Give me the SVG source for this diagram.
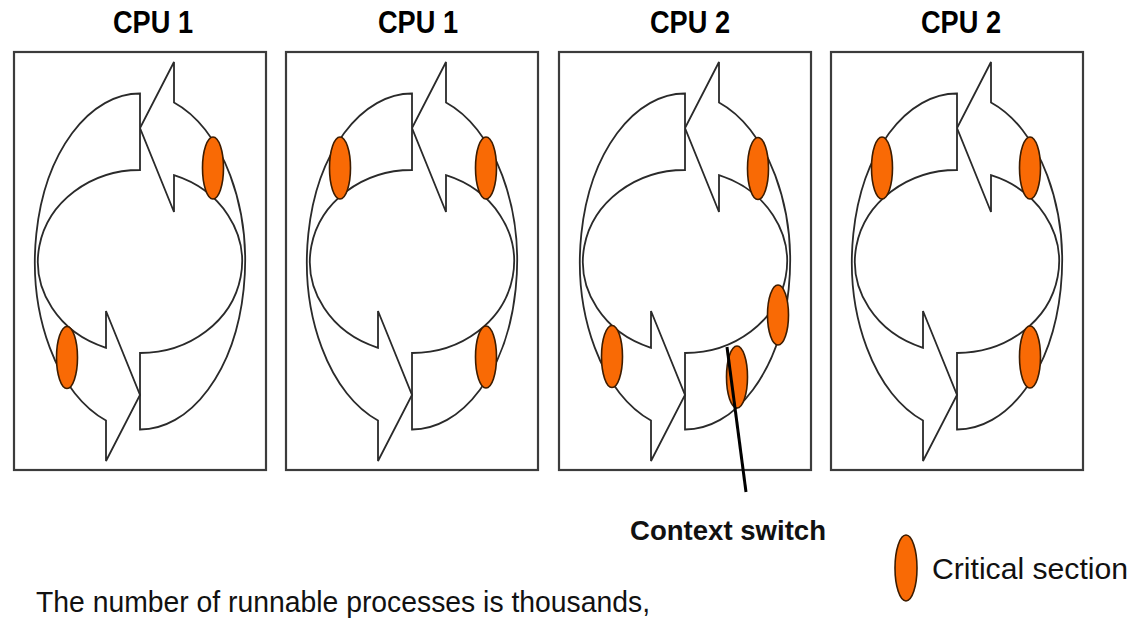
<svg xmlns="http://www.w3.org/2000/svg" xmlns:xlink="http://www.w3.org/1999/xlink" width="1146" height="619" viewBox="0 0 1146 619">
  <style>
    .frame { fill: #ffffff; stroke: #3c3c3c; stroke-width: 2.2; }
    .arrow { fill: #ffffff; stroke: #2a2a2a; stroke-width: 1.8; stroke-linejoin: miter; }
    .crit { fill: #f96a05; stroke: #3d1c00; stroke-width: 1.6; }
    .title { font-family: "Liberation Sans", Arial, sans-serif; font-weight: bold; font-size: 31px; fill: #000000; }
    .label { font-family: "Liberation Sans", Arial, sans-serif; font-size: 29px; fill: #111111; }
    .bold { font-weight: bold; font-size: 27px; }
    .pointer { stroke: #000000; stroke-width: 3; fill: none; }
  </style>
  <defs>
    <!-- one half of the circular cycle: tail at the bottom, head at the top pointing left -->
    <path id="halfCycle" class="arrow" d="M 0 168 A 105 168 0 0 0 34 -159 L 34 -199.5 L 0 -133.5 L 34 -49.5 L 34 -86.3 A 102 91.5 0 0 1 0 91.5 Z"/>
    <g id="cycle">
      <use xlink:href="#halfCycle"/>
      <use xlink:href="#halfCycle" transform="rotate(180)"/>
    </g>
  </defs>

  <!-- panel 1 -->
  <g id="panel1">
    <text class="title" x="113" y="33" textLength="80" lengthAdjust="spacingAndGlyphs">CPU 1</text>
    <rect class="frame" x="14" y="52" width="252" height="418"/>
    <g transform="translate(140 261.5)">
      <use xlink:href="#cycle"/>
      <ellipse class="crit" cx="73" cy="-93.5" rx="10.5" ry="31"/>
      <ellipse class="crit" cx="-73" cy="96" rx="10.5" ry="31"/>
    </g>
  </g>

  <!-- panel 2 -->
  <g id="panel2">
    <text class="title" x="378" y="33" textLength="80" lengthAdjust="spacingAndGlyphs">CPU 1</text>
    <rect class="frame" x="286" y="52" width="252" height="418"/>
    <g transform="translate(412 261.5)">
      <use xlink:href="#cycle"/>
      <ellipse class="crit" cx="-72" cy="-93.5" rx="10.5" ry="31"/>
      <ellipse class="crit" cx="74" cy="-93.5" rx="10.5" ry="31"/>
      <ellipse class="crit" cx="74" cy="95.5" rx="10.5" ry="31"/>
    </g>
  </g>

  <!-- panel 3 -->
  <g id="panel3">
    <text class="title" x="650" y="33" textLength="80" lengthAdjust="spacingAndGlyphs">CPU 2</text>
    <rect class="frame" x="559" y="52" width="252" height="418"/>
    <g transform="translate(685 261.5)">
      <use xlink:href="#cycle"/>
      <ellipse class="crit" cx="73" cy="-93" rx="10.5" ry="31"/>
      <ellipse class="crit" cx="93" cy="53.5" rx="10.5" ry="30"/>
      <ellipse class="crit" cx="52" cy="115.5" rx="10.5" ry="31"/>
      <ellipse class="crit" cx="-73" cy="95" rx="10.5" ry="31"/>
    </g>
  </g>

  <!-- panel 4 -->
  <g id="panel4">
    <text class="title" x="921" y="33" textLength="80" lengthAdjust="spacingAndGlyphs">CPU 2</text>
    <rect class="frame" x="831" y="52" width="252" height="418"/>
    <g transform="translate(957 261.5)">
      <use xlink:href="#cycle"/>
      <ellipse class="crit" cx="-75" cy="-93.5" rx="10.5" ry="31"/>
      <ellipse class="crit" cx="73" cy="-93.5" rx="10.5" ry="31"/>
      <ellipse class="crit" cx="73" cy="95.5" rx="10.5" ry="31"/>
    </g>
  </g>

  <!-- pointer to the context switch -->
  <g id="connectors">
    <line class="pointer" x1="727" y1="347" x2="746" y2="492"/>
  </g>

  <g id="contextLabel">
    <text class="label bold" x="630" y="540" textLength="196" lengthAdjust="spacingAndGlyphs">Context switch</text>
  </g>

  <g id="legend">
    <ellipse class="crit" cx="906" cy="568" rx="11" ry="33"/>
    <text class="label" x="932" y="579" textLength="196" lengthAdjust="spacingAndGlyphs">Critical section</text>
  </g>

  <g id="caption">
    <text class="label" x="36" y="612" textLength="614" lengthAdjust="spacingAndGlyphs">The number of runnable processes is thousands,</text>
  </g>
</svg>
